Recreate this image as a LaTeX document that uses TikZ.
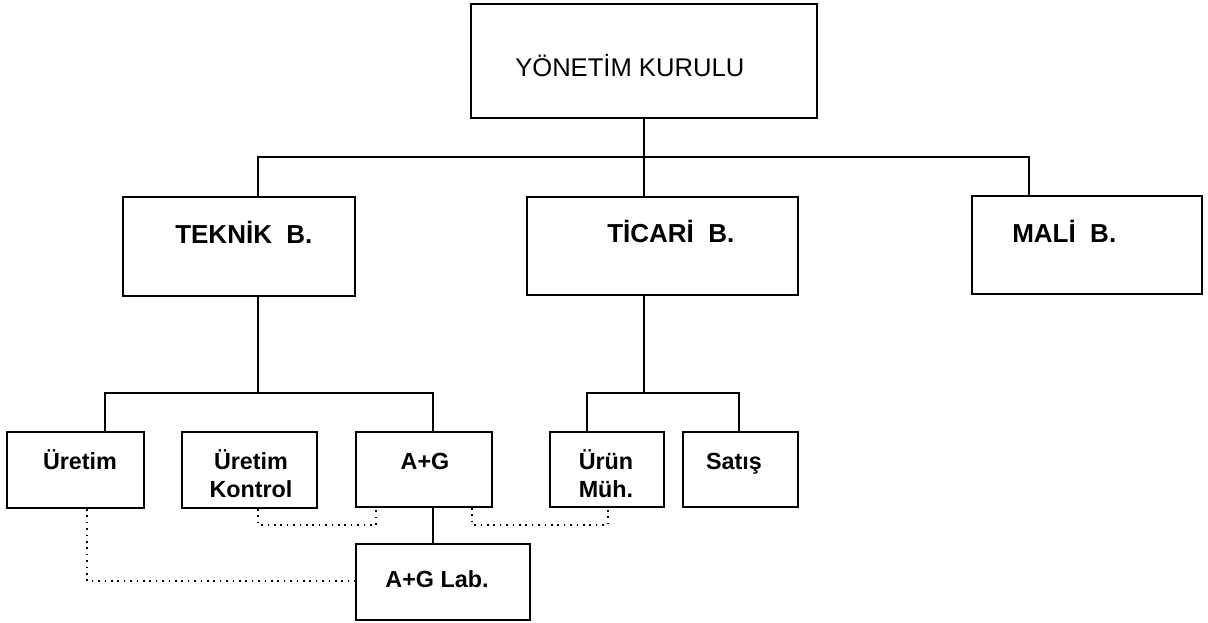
\documentclass[tikz,border=0pt]{standalone}
\usepackage{fontspec}
\setmainfont{Liberation Sans}
\usetikzlibrary{positioning,fit}

\begin{document}
\begin{tikzpicture}[
  x=0.75pt, y=-0.75pt,
  box/.style={draw, line width=1.4pt, inner sep=0pt},
  toptxt/.style={anchor=base west, inner sep=0pt, font=\fontsize{19.2}{23}\selectfont},
  midtxt/.style={anchor=base west, inner sep=0pt, font=\bfseries\fontsize{19.5}{23}\selectfont},
  lowtxt/.style={anchor=base, inner sep=0pt, align=center, font=\bfseries\fontsize{17.5}{21}\selectfont},
  conn/.style={line width=1.4pt},
  dots/.style={line width=1.2pt, dash pattern=on 1.2pt off 3.6pt}
]
\useasboundingbox (0,0) rectangle (1208,623);

\node[box, fit={(471,4) (817,118)}] (yk) {};
\node[box, fit={(123,197) (355,296)}] (teknik) {};
\node[box, fit={(527,197) (798,295)}] (ticari) {};
\node[box, fit={(972,196) (1202,294)}] (mali) {};
\node[box, fit={(7,432) (144,508)}] (uretim) {};
\node[box, fit={(182,432) (317,508)}] (uk) {};
\node[box, fit={(356,432) (492,507)}] (ag) {};
\node[box, fit={(550,432) (664,507)}] (urun) {};
\node[box, fit={(683,432) (798,507)}] (satis) {};
\node[box, fit={(356,544) (530,620)}] (lab) {};

\node[toptxt] (yk-t) at (515,77) {YÖNETİM KURULU};
\node[midtxt] (teknik-t) at (175,244) {TEKNİK\ \ B.};
\node[midtxt] (ticari-t) at (607,243) {TİCARİ\ \ B.};
\node[midtxt] (mali-t) at (1012,243) {MALİ\ \ B.};
\node[lowtxt] (uretim-t) at (80,470) {Üretim};
\node[lowtxt] (uk-t) at (251,498) {Üretim\\Kontrol};
\node[lowtxt] (ag-t) at (425,470) {A+G};
\node[lowtxt] (urun-t) at (606,498) {Ürün\\Müh.};
\node[lowtxt] (satis-t) at (734,470) {Satış};
\node[lowtxt] (lab-t) at (437,588) {A+G Lab.};

\coordinate (b0) at (258,157);
\coordinate (b2) at (1029,157);
\coordinate (c0) at (105,393);
\coordinate (c1) at (433,393);
\coordinate (d0) at (587,393);
\coordinate (d1) at (739,393);
\coordinate (e0) at (87,581);
\coordinate (e1) at (258,525);
\coordinate (e2) at (376,525);
\coordinate (e3) at (472,525);
\coordinate (e4) at (608,525);

\draw[conn] (yk.south) -- (yk.south |- ticari.north);
\draw[conn] (b0 |- teknik.north) -- (b0) -- (b2) -- (b2 |- mali.north);
\draw[conn] (b0 |- teknik.south) -- (b0 |- c0);
\draw[conn] (c0 |- uretim.north) -- (c0) -- (c1) -- (c1 |- ag.north);
\draw[conn] (c1 |- ag.south) -- (c1 |- lab.north);
\draw[conn] (yk.south |- ticari.south) -- (yk.south |- d0);
\draw[conn] (d0 |- urun.north) -- (d0) -- (d1) -- (d1 |- satis.north);

\draw[dots] (e0 |- uretim.south) -- (e0) -- (lab.west |- e0);
\draw[dots] (e1 |- uk.south) -- (e1) -- (e2) -- (e2 |- ag.south);
\draw[dots] (e3 |- ag.south) -- (e3) -- (e4) -- (e4 |- urun.south);
\end{tikzpicture}
\end{document}
